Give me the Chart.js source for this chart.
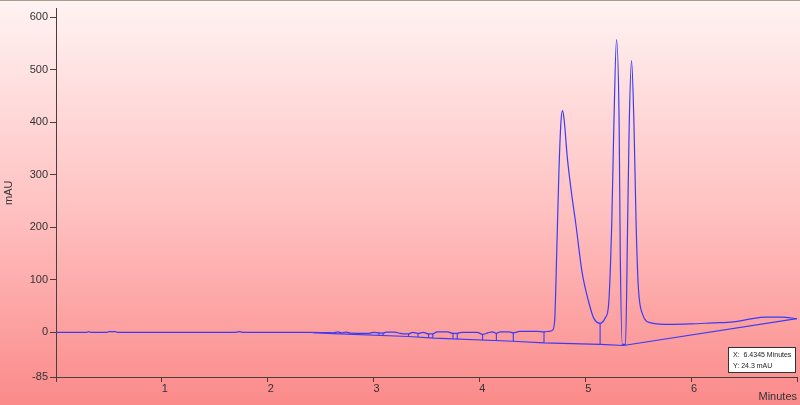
<!DOCTYPE html>
<html>
<head>
<meta charset="utf-8">
<script src="https://cdn.jsdelivr.net/npm/chart.js@4"></script>
<style>
  html, body { margin: 0; padding: 0; background: #fff; }
  #wrap { width: 800px; height: 405px; position: relative; }
</style>
</head>
<body>
<div id="wrap"><canvas id="chromChart"></canvas></div>
<script>
// chromatogram trace (minutes, mAU)
const traceTime = [0, 0.29, 0.31, 0.33, 0.48, 0.50, 0.56, 0.58, 1.70, 1.73, 1.76,
  2.40, 2.55, 2.62, 2.66, 2.70, 2.74, 2.78, 2.95, 3.00, 3.05, 3.09, 3.12, 3.20, 3.25,
  3.33, 3.37, 3.42, 3.47, 3.52, 3.56, 3.60, 3.70, 3.75, 3.79, 3.83, 3.98, 4.03, 4.08,
  4.12, 4.16, 4.20, 4.28, 4.32, 4.38, 4.55, 4.61, 4.66, 4.69, 4.71, 4.73, 4.75, 4.77,
  4.785, 4.80, 4.83, 4.87, 4.91, 4.97, 5.04, 5.08, 5.14, 5.19, 5.22, 5.25, 5.27, 5.295,
  5.32, 5.33, 5.35, 5.38, 5.40, 5.415, 5.437, 5.46, 5.48, 5.50, 5.54, 5.62, 5.81, 6.00,
  6.20, 6.40, 6.55, 6.70, 6.85, 7.00];
const traceMAU = [0, 0, 1.5, 0, 0, 1.5, 1.5, 0, 0, 1.5, 0,
  0, -0.5, -1, 1, -1, 0.5, -1.5, -2, 0, -1, -1.5, 0.5, 0.5, -2,
  -3, 0, -2, 0, -3, -3, 1, 1, -2, -2, 0, 0, -4, -1,
  1, -2, 1, 1, -1, 2, 2, 1, 2, 4, 20, 150, 300, 400,
  422, 405, 333, 265, 207, 114, 52, 27, 17, 28, 52, 207, 395, 557,
  395, 156, -23, -23, 207, 395, 517, 395, 207, 90, 35, 18, 15, 16,
  18, 20, 25, 29, 29, 26];

// integration baseline
const baseTime = [2.43, 2.62, 3.33, 3.57, 4.32, 4.61, 5.14, 5.36, 7.00];
const baseMAU = [-0.5, -2.5, -8, -11, -17, -20, -23, -25, 26];

// peak drop lines
const dropTime = [3.05, 3.09, 3.33, 3.42, 3.52, 3.56, 3.75, 3.79, 4.03, 4.16, 4.32, 4.61, 5.14, 5.35, 5.38];
const dropTop = [-1, -1.5, -3, -2, -3, -3, -2, -2, -4, -2, -1, 1, 17, -23, -23];
const dropBottom = [-5.5, -6, -8, -9, -10, -11, -12.5, -13, -15, -16, -17, -20, -23, -25, -25];

// axes
const yTickValues = [-85, 0, 100, 200, 300, 400, 500, 600];
const xTickValues = [0, 1, 2, 3, 4, 5, 6, 7];
const xTickLabels = ['', '1', '2', '3', '4', '5', '6', ''];
const readoutLines = ['X:  6.4345 Minutes', 'Y: 24.3 mAU'];

const lineColor = '#3b3bf6';
const axisColor = '#4a3d3d';
const textColor = '#333';

const tracePts = traceTime.map((t, i) => ({ x: t, y: traceMAU[i] }));
const basePts = baseTime.map((t, i) => ({ x: t, y: baseMAU[i] }));
const dropPts = [];
dropTime.forEach((t, i) => {
  dropPts.push({ x: t, y: dropTop[i] }, { x: t, y: dropBottom[i] }, { x: t, y: null });
});

// pink gradient background, grey top edge, cursor readout box
const backdrop = {
  id: 'backdrop',
  beforeDraw(chart) {
    const { ctx, width, height } = chart;
    const g = ctx.createLinearGradient(0, 0, 0, height);
    g.addColorStop(0, '#fff3f3');
    g.addColorStop(0.5, '#ffc3c3');
    g.addColorStop(1, '#fb8a8a');
    ctx.save();
    ctx.fillStyle = g;
    ctx.fillRect(0, 0, width, height);
    ctx.fillStyle = '#a89a8c';
    ctx.fillRect(0, 0, width, 1);
    ctx.restore();
  },
  afterDraw(chart) {
    const ctx = chart.ctx;
    ctx.save();
    ctx.fillStyle = '#fff';
    ctx.strokeStyle = '#333';
    ctx.lineWidth = 1;
    ctx.fillRect(728.5, 347.5, 67, 25);
    ctx.strokeRect(728.5, 347.5, 67, 25);
    ctx.fillStyle = '#222';
    ctx.font = '7px "Liberation Sans", Arial, sans-serif';
    ctx.textBaseline = 'middle';
    ctx.fillText(readoutLines[0], 733, 355);
    ctx.fillText(readoutLines[1], 733, 366);
    ctx.restore();
  }
};

new Chart(document.getElementById('chromChart'), {
  type: 'line',
  data: {
    datasets: [
      {
        label: 'Signal',
        data: tracePts,
        borderColor: lineColor,
        borderWidth: 1.2,
        pointRadius: 0,
        cubicInterpolationMode: 'monotone',
      },
      {
        label: 'Baseline',
        data: basePts,
        borderColor: lineColor,
        borderWidth: 1.1,
        pointRadius: 0,
      },
      {
        label: 'Drops',
        data: dropPts,
        borderColor: lineColor,
        borderWidth: 1.1,
        pointRadius: 0,
        spanGaps: false,
      },
    ],
  },
  options: {
    responsive: true,
    maintainAspectRatio: false,
    animation: false,
    layout: { padding: { top: 1, right: 3, left: 0, bottom: 0 } },
    plugins: {
      legend: { display: false },
      tooltip: { enabled: false },
    },
    scales: {
      x: {
        type: 'linear',
        min: 0,
        max: 7,
        afterFit: (s) => { s.height = 28; },
        afterBuildTicks: (s) => { s.ticks = xTickValues.map((v) => ({ value: v })); },
        grid: { drawOnChartArea: false, tickLength: 5, color: axisColor },
        border: { color: axisColor },
        ticks: {
          color: textColor,
          font: { size: 11, family: '"Liberation Sans", Arial, sans-serif' },
          padding: 0,
          labelOffset: 3,
          maxRotation: 0,
          autoSkip: false,
          callback: (v, i) => xTickLabels[i],
        },
        title: {
          display: true,
          text: 'Minutes',
          align: 'end',
          color: textColor,
          font: { size: 11, family: '"Liberation Sans", Arial, sans-serif' },
          padding: { top: 0, bottom: 1 },
        },
      },
      y: {
        min: -85,
        max: 616,
        afterFit: (s) => { s.width = 56; },
        afterBuildTicks: (s) => { s.ticks = yTickValues.map((v) => ({ value: v })); },
        grid: { drawOnChartArea: false, tickLength: 6, color: axisColor },
        border: { color: axisColor },
        ticks: {
          color: textColor,
          font: { size: 11, family: '"Liberation Sans", Arial, sans-serif' },
          padding: 2,
          autoSkip: false,
        },
        title: {
          display: true,
          text: 'mAU',
          color: textColor,
          font: { size: 11, family: '"Liberation Sans", Arial, sans-serif' },
          padding: { top: 2, bottom: 0 },
        },
      },
    },
  },
  plugins: [backdrop],
});
</script>
</body>
</html>
